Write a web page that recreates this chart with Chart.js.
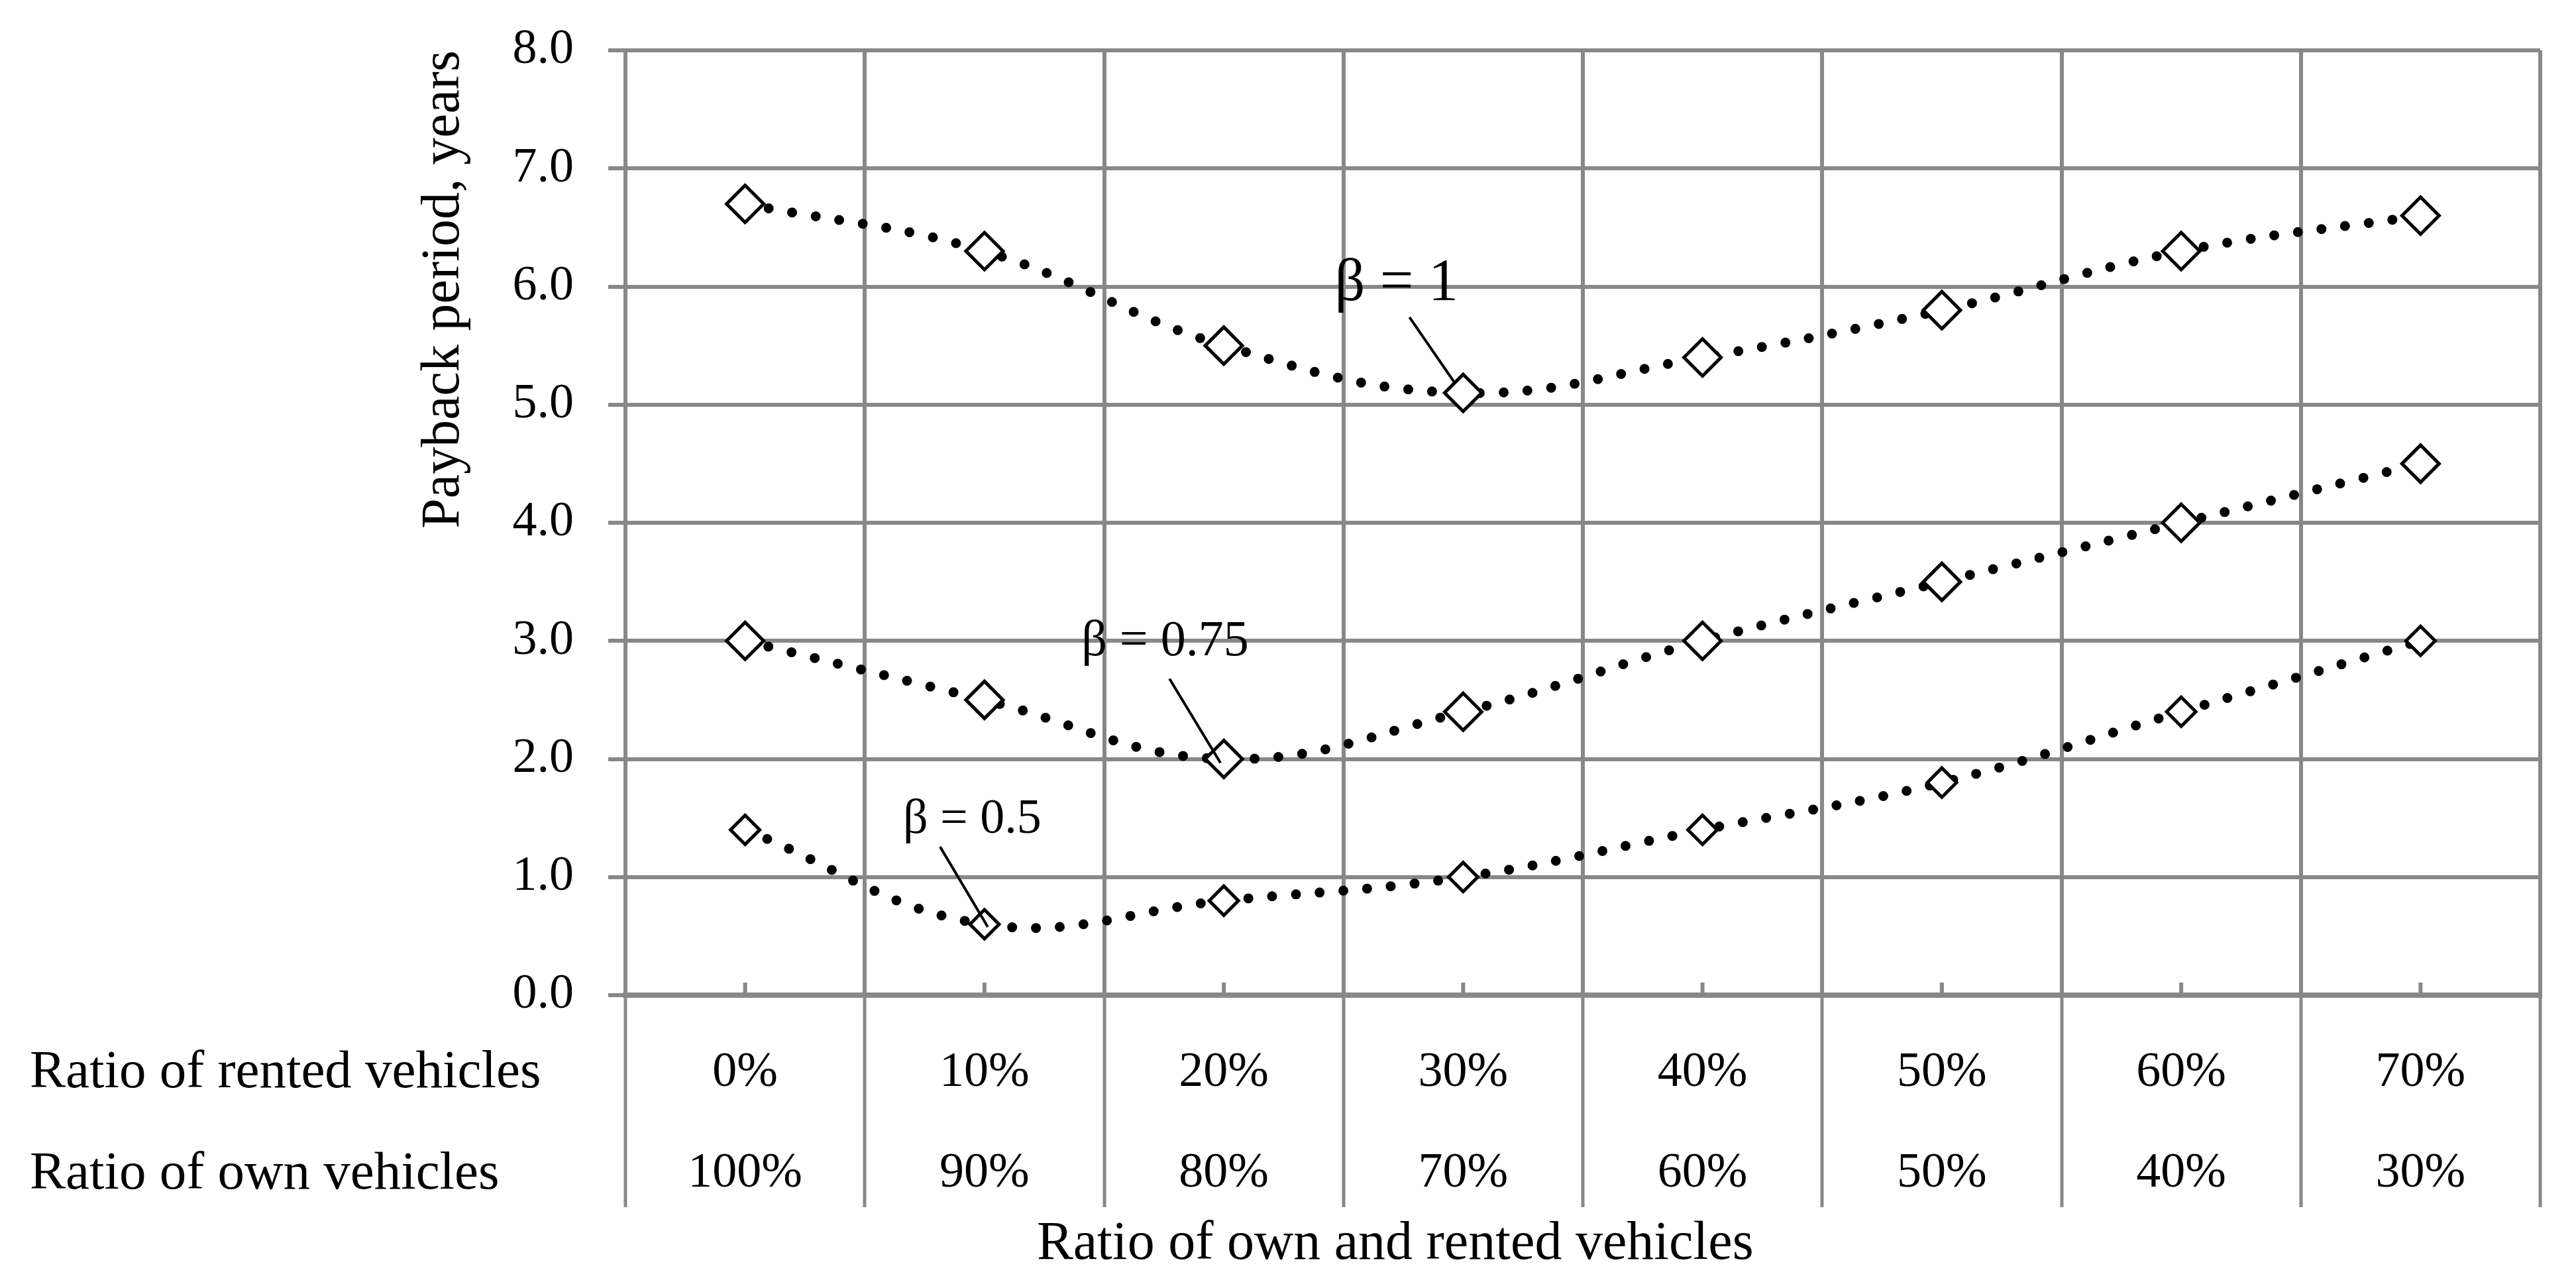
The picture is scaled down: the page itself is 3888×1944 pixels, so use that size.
<!DOCTYPE html>
<html>
<head>
<meta charset="utf-8">
<script src="https://cdn.jsdelivr.net/npm/chart.js@4.4.0/dist/chart.umd.min.js"></script>
<style>
  body { margin: 0; background: #fff; }
  canvas { display: block; }
</style>
</head>
<body>
<canvas id="payback" width="3888" height="1944"></canvas>
<script>
let rented = ['0%', '10%', '20%', '30%', '40%', '50%', '60%', '70%']
let own = ['100%', '90%', '80%', '70%', '60%', '50%', '40%', '30%']
let beta1 = [6.7, 6.3, 5.5, 5.1, 5.4, 5.8, 6.3, 6.6]
let beta075 = [3.0, 2.5, 2.0, 2.4, 3.0, 3.5, 4.0, 4.5]
let beta05 = [1.4, 0.6, 0.8, 1.0, 1.4, 1.8, 2.4, 3.0]

let gridColor = '#888888'
let serif = 'Liberation Serif'

// label text, dataset, point index, font size, text offset, leader line offsets
let notes = [
  { text: 'β = 1', ds: 0, idx: 3, size: 90, tx: -194, ty: -140, l: [-81, -114, -12, -14] },
  { text: 'β = 0.75', ds: 1, idx: 2, size: 76, tx: -215, ty: -157, l: [-82, -121, -5, 6] },
  { text: 'β = 0.5', ds: 2, idx: 1, size: 74, tx: -123, ty: -138, l: [-67, -117, 5, 4] }
]

let extras = {
  id: 'extras',
  beforeDatasetsDraw(chart) {
    let ctx = chart.ctx
    let xs = chart.scales.x
    let y0 = chart.scales.y.getPixelForValue(0)
    ctx.save()
    ctx.strokeStyle = gridColor
    ctx.lineWidth = 6
    rented.forEach((r, i) => {
      let x = xs.getPixelForValue(i)
      ctx.beginPath()
      ctx.moveTo(x, y0)
      ctx.lineTo(x, y0 - 19)
      ctx.stroke()
    })
    ctx.restore()
  },
  afterDatasetsDraw(chart) {
    let ctx = chart.ctx
    let area = chart.chartArea
    ctx.save()
    ctx.fillStyle = '#000'
    ctx.strokeStyle = '#000'
    ctx.lineWidth = 4
    notes.forEach(n => {
      let pt = chart.getDatasetMeta(n.ds).data[n.idx]
      ctx.font = n.size + 'px "' + serif + '"'
      ctx.textAlign = 'left'
      ctx.textBaseline = 'alphabetic'
      ctx.fillText(n.text, pt.x + n.tx, pt.y + n.ty)
      ctx.beginPath()
      ctx.moveTo(pt.x + n.l[0], pt.y + n.l[1])
      ctx.lineTo(pt.x + n.l[2], pt.y + n.l[3])
      ctx.stroke()
    })
    ctx.font = '81px "' + serif + '"'
    ctx.textBaseline = 'middle'
    ctx.textAlign = 'left'
    ctx.fillText('Ratio of rented vehicles', 45, area.bottom + 118)
    ctx.fillText('Ratio of own vehicles', 45, area.bottom + 271)
    ctx.font = '82px "' + serif + '"'
    ctx.textAlign = 'center'
    ctx.fillText('Ratio of own and rented vehicles', area.left + (area.right - area.left) * 0.402, area.bottom + 376)
    ctx.restore()
  }
}

function series(label, values, radius) {
  return {
    label: label,
    data: values,
    borderColor: '#000',
    borderWidth: 15,
    borderDash: [0, 36],
    borderCapStyle: 'round',
    tension: 0.4,
    fill: false,
    pointStyle: 'rectRot',
    pointRadius: radius,
    pointHoverRadius: radius,
    pointBorderWidth: 5,
    pointBorderColor: '#000',
    pointBackgroundColor: '#fff'
  }
}

Chart.defaults.font.family = serif
Chart.defaults.color = '#000'

let labels = rented.map((r, i) => [r, own[i]])

new Chart(document.getElementById('payback').getContext('2d'), {
  type: 'line',
  data: {
    labels: labels,
    datasets: [
      series('β = 1', beta1, 28),
      series('β = 0.75', beta075, 28),
      series('β = 0.5', beta05, 22)
    ]
  },
  options: {
    responsive: false,
    devicePixelRatio: 1,
    animation: false,
    layout: { padding: { left: 0, top: 76, right: 54, bottom: 0 } },
    plugins: { legend: { display: false }, tooltip: { enabled: false } },
    scales: {
      x: {
        offset: true,
        grid: { offset: true, color: gridColor, lineWidth: 6, tickLength: 320, tickColor: gridColor, tickWidth: 5 },
        border: { color: gridColor, width: 8 },
        ticks: { font: { size: 74, lineHeight: 2.054 }, padding: -278, maxRotation: 0, autoSkip: false },
        afterFit(scale) { scale.height = 442 }
      },
      y: {
        min: 0,
        max: 8,
        grid: { color: gridColor, lineWidth: 6, tickLength: 26, tickColor: gridColor },
        border: { color: gridColor, width: 6 },
        ticks: { stepSize: 1, padding: 52, font: { size: 74 }, callback: v => v.toFixed(1) },
        title: { display: true, text: 'Payback period, years', align: 'end', font: { size: 82 }, padding: { top: 621, bottom: 0 } },
        afterFit(scale) {
          scale.width = 944
          scale.paddingTop = 0
          scale.paddingBottom = 0
        }
      }
    }
  },
  plugins: [extras]
})
</script>
</body>
</html>
